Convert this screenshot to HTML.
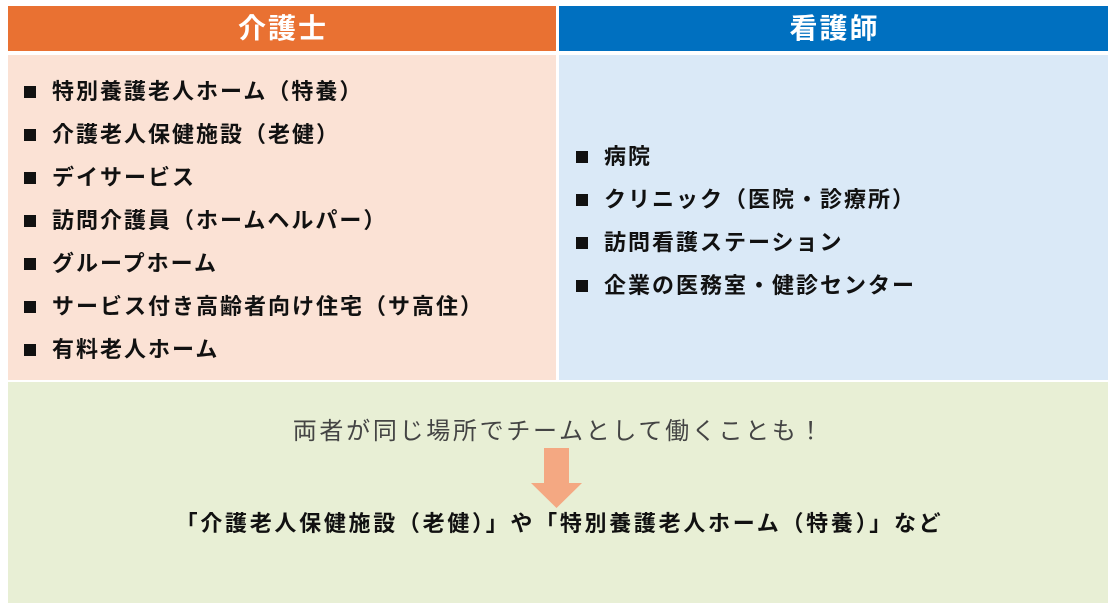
<!DOCTYPE html>
<html><head><meta charset="utf-8"><style>
body{margin:0;width:1116px;height:611px;background:#fff;position:relative;font-family:"Liberation Sans","Noto Sans CJK JP",sans-serif;overflow:hidden}
.b{position:absolute}
.h{color:#fff;font-weight:bold;font-size:28px;letter-spacing:2px;padding-left:2px;box-sizing:border-box;text-align:center;line-height:45px}
.it{position:absolute;font-size:22px;letter-spacing:2px;font-weight:bold;color:#111;white-space:nowrap;line-height:24px}
.it:before{content:"";position:absolute;left:-28px;top:6px;width:12px;height:12px;background:#111}
</style></head><body>
<div class="b h" style="left:8px;top:6px;width:548px;height:45px;background:#e97132">介護士</div>
<div class="b h" style="left:559px;top:6px;width:549px;height:45px;background:#0070c0">看護師</div>
<div class="b" style="left:8px;top:55px;width:548px;height:325px;background:#fbe2d5"></div>
<div class="b" style="left:559px;top:55px;width:549px;height:325px;background:#dae9f7"></div>
<div class="b" style="left:8px;top:382px;width:1100px;height:221px;background:#e8efd5"></div>
<div class="it" style="left:52px;top:80px">特別養護老人ホーム（特養）</div>
<div class="it" style="left:52px;top:123px">介護老人保健施設（老健）</div>
<div class="it" style="left:52px;top:166px">デイサービス</div>
<div class="it" style="left:52px;top:209px">訪問介護員（ホームヘルパー）</div>
<div class="it" style="left:52px;top:252px">グループホーム</div>
<div class="it" style="left:52px;top:295px">サービス付き高齢者向け住宅（サ高住）</div>
<div class="it" style="left:52px;top:338px">有料老人ホーム</div>
<div class="it" style="left:604px;top:145px">病院</div>
<div class="it" style="left:604px;top:188px">クリニック（医院・診療所）</div>
<div class="it" style="left:604px;top:231px">訪問看護ステーション</div>
<div class="it" style="left:604px;top:274px">企業の医務室・健診センター</div>
<div class="b" style="left:8px;top:417px;width:1100px;padding-left:2px;box-sizing:border-box;text-align:center;font-size:24px;letter-spacing:2.7px;color:#444;line-height:30px">両者が同じ場所でチームとして働くことも！</div>
<svg class="b" style="left:530px;top:446px" width="56" height="64"><polygon points="14,2 39,2 39,37 52,37 26.5,62 1,37 14,37" fill="#f4a882"/></svg>
<div class="b" style="left:8px;top:511px;width:1100px;padding-left:3px;box-sizing:border-box;text-align:center;font-size:22px;letter-spacing:2.7px;font-weight:bold;color:#111;line-height:26px">「介護老人保健施設（老健）」や「特別養護老人ホーム（特養）」など</div>
</body></html>
